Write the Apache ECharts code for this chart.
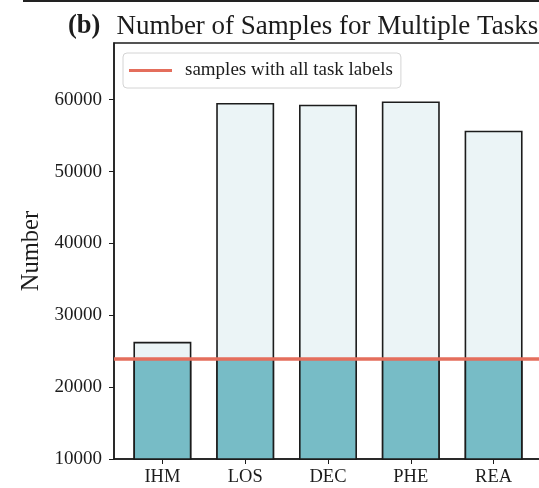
<!DOCTYPE html>
<html>
<head>
<meta charset="utf-8">
<script src="https://cdn.jsdelivr.net/npm/echarts@6/dist/echarts.min.js"></script>
<style>html,body{margin:0;padding:0;background:#fff}#c{width:539px;height:488px}</style>
</head>
<body>
<div id="c"></div>
<script>
const categories = ['IHM', 'LOS', 'DEC', 'PHE', 'REA'];
const totalSamples = [26300, 59540, 59300, 59760, 55690];
const allLabelSamples = 24000;
const allLabelSeries = [24000, 24000, 24000, 24000, 24000];
const yTicks = { min: 10000, max: 67890, interval: 10000 };

const serif = '"Liberation Serif", "DejaVu Serif", serif';
const ink = '#1c1c1c';
const chart = echarts.init(document.getElementById('c'), null, { renderer: 'canvas' });

chart.setOption({
  animation: false,
  backgroundColor: '#fff',
  title: {
    text: '{b|(b)}{n|Number of Samples for Multiple Tasks}',
    left: 63, top: 8,
    textStyle: {
      fontWeight: 'normal',
      rich: {
        b: { fontFamily: serif, fontWeight: 'bold', fontSize: 26.5, color: ink, padding: [0, 16, 0, 0] },
        n: { fontFamily: serif, fontWeight: 'normal', fontSize: 27, color: ink }
      }
    }
  },
  graphic: [{
    type: 'rect', left: 23, top: 0, shape: { width: 520, height: 2 },
    style: { fill: '#222' }, silent: true
  }],
  legend: {
    left: 123, top: 53,
    padding: [8, 8, 8, 6],
    backgroundColor: '#fff',
    borderColor: '#d4d4d4', borderWidth: 1, borderRadius: 4,
    itemWidth: 43, itemHeight: 3,
    icon: 'rect',
    data: ['samples with all task labels'],
    textStyle: { fontFamily: serif, fontSize: 19, color: ink, lineHeight: 15, padding: [0, 0, 0, 8] }
  },
  grid: [
    { left: 114, width: 428, top: 43, bottom: 29, outerBoundsMode: 'none', containLabel: false,
      show: true, borderColor: ink, borderWidth: 1.5, backgroundColor: 'transparent' },
    { left: 121, width: 414, top: 43, bottom: 29, outerBoundsMode: 'none', containLabel: false }
  ],
  xAxis: [
    { gridIndex: 0, type: 'value', min: 0, max: 1,
      axisLine: { show: true, lineStyle: { color: ink, width: 1.5 } },
      axisTick: { show: false }, axisLabel: { show: false }, splitLine: { show: false } },
    { gridIndex: 1, type: 'category', data: categories,
      axisLine: { show: false },
      axisTick: { show: true, alignWithLabel: true, length: 5, lineStyle: { color: ink, width: 1 } },
      axisLabel: { fontFamily: serif, fontSize: 18.5, color: ink, margin: 9 } }
  ],
  yAxis: [
    { gridIndex: 0, type: 'value', min: yTicks.min, max: yTicks.max, interval: yTicks.interval,
      name: 'Number', nameLocation: 'middle', nameGap: 68,
      nameTextStyle: { fontFamily: serif, fontSize: 24.5, color: ink },
      axisLine: { show: true, lineStyle: { color: ink, width: 1.5 } },
      axisTick: { show: true, length: 5, lineStyle: { color: ink, width: 1 } },
      axisLabel: { fontFamily: serif, fontSize: 19, color: ink, margin: 12, showMaxLabel: false,
        formatter: v => String(v) },
      splitLine: { show: false } },
    { gridIndex: 1, type: 'value', min: yTicks.min, max: yTicks.max, interval: yTicks.interval,
      show: false, splitLine: { show: false } }
  ],
  series: [
    { name: 'total', type: 'bar', xAxisIndex: 1, yAxisIndex: 1, data: totalSamples,
      barWidth: '70%', barGap: '-100%', z: 2,
      itemStyle: { color: '#ebf4f6', borderColor: ink, borderWidth: 1.6 } },
    { name: 'all', type: 'bar', xAxisIndex: 1, yAxisIndex: 1, data: allLabelSeries,
      barWidth: '70%', barGap: '-100%', z: 3,
      itemStyle: { color: '#77bcc6', borderColor: ink, borderWidth: 1.6 } },
    { name: 'samples with all task labels', type: 'line', xAxisIndex: 0, yAxisIndex: 0,
      data: [], color: '#e46e5c', z: 5,
      lineStyle: { color: '#e46e5c', width: 3.5 },
      markLine: { silent: true, symbol: ['none', 'none'], label: { show: false },
        lineStyle: { color: '#e46e5c', width: 3.5, type: 'solid' },
        data: [{ yAxis: allLabelSamples }] } }
  ]
});
</script>
</body>
</html>
